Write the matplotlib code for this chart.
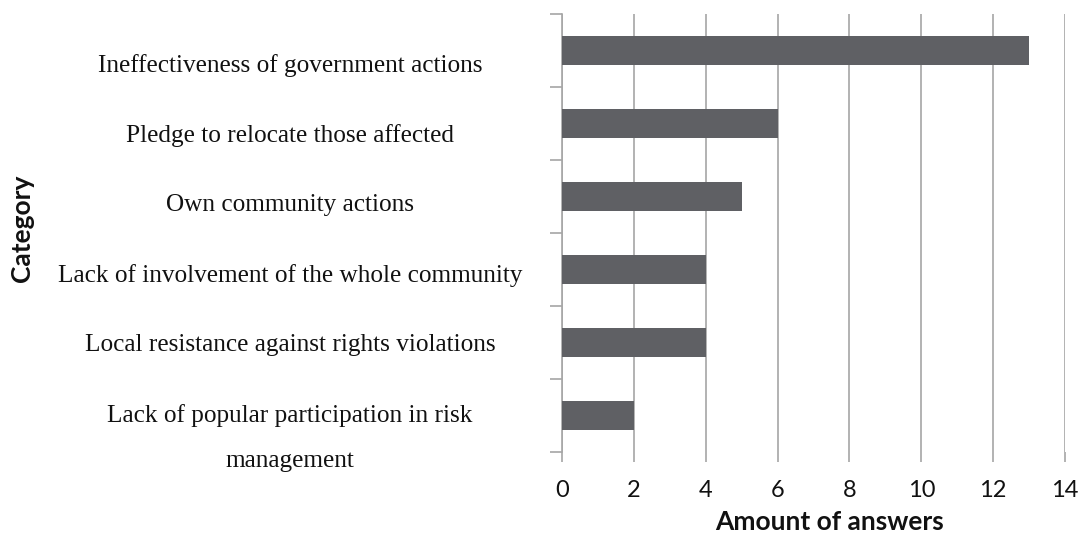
import matplotlib
matplotlib.use("Agg")
import matplotlib.pyplot as plt
import matplotlib.transforms as mtransforms
import numpy as np

# 数据：类别和回答数量
categories = [
    "Ineffectiveness of government actions",
    "Pledge to relocate those affected",
    "Own community actions",
    "Lack of involvement of the whole community",
    "Local resistance against rights violations",
    "Lack of popular participation in risk\nmanagement",
]
answers = [13, 6, 5, 4, 4, 2]
x_ticks = [0, 2, 4, 6, 8, 10, 12, 14]

BAR_COLOR = "#5f6064"
GRID_COLOR = "#a6a6a6"

fig = plt.figure(figsize=(10.82, 5.37), dpi=100)
ax = fig.add_axes([562 / 1082, 1 - 452 / 537, 503 / 1082, (452 - 14) / 537])

positions = np.arange(len(categories))
ax.barh(positions, answers, height=0.4, color=BAR_COLOR, zorder=3)

ax.set_xlim(0, 14)
ax.set_ylim(len(categories) - 0.5, -0.5)
ax.set_xticks(x_ticks)
ax.set_xticklabels([str(t) for t in x_ticks], fontfamily="Lato", fontsize=17,
                   color="#111111")
ax.tick_params(axis="x", length=7, width=1.2, color=GRID_COLOR, pad=13)
ax.grid(axis="x", color=GRID_COLOR, linewidth=1.2, zorder=0)

# y 轴：刻度在类别边界上，标签单独画
ax.set_yticks([])
ax.set_yticks(np.arange(-0.5, len(categories)), minor=True)
ax.tick_params(axis="y", which="minor", length=9, width=1.2, color=GRID_COLOR)

for side in ["top", "right", "bottom"]:
    ax.spines[side].set_visible(False)
ax.spines["left"].set_color(GRID_COLOR)
ax.spines["left"].set_linewidth(1.2)

# 类别标签：逐行画，多行标签的第一行对齐类别中心
trans = mtransforms.blended_transform_factory(fig.transFigure, ax.transData)
for i, label in enumerate(categories):
    drift = 0.2 * (len(categories) - 1 - i) / (len(categories) - 1)
    for k, line in enumerate(label.split("\n")):
        ax.text(290 / 1082, i + drift + k * 0.62, line, transform=trans,
                ha="center", va="center", fontfamily="Liberation Serif", fontsize=18.2,
                color="#111111")

fig.text(22 / 1082, 1 - 228 / 537, "Category", rotation=90, ha="center", va="center",
         fontfamily="Lato", fontweight="bold", fontsize=19, color="#111111")
fig.text(830 / 1082, 1 - 522 / 537, "Amount of answers", ha="center", va="center",
         fontfamily="Lato", fontweight="bold", fontsize=19, color="#111111")

fig.savefig("out.png", dpi=100)
